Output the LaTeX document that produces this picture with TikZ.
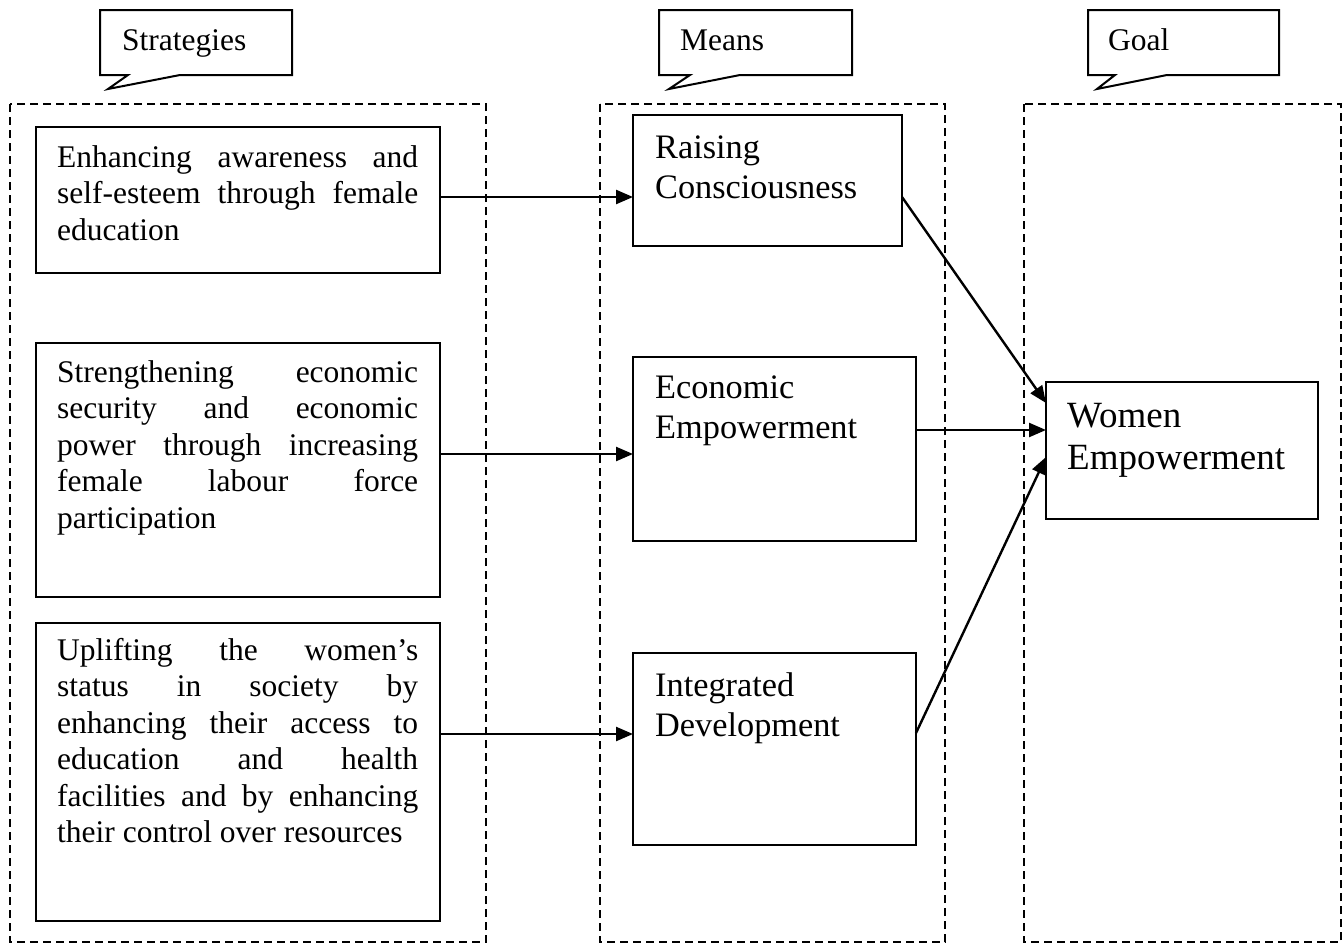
\documentclass[tikz,border=0pt]{standalone}
\usepackage{fontspec}
\setmainfont{Liberation Serif}
\usetikzlibrary{arrows.meta,calc}
\newcommand\jset{\hyphenpenalty=10000\relax\exhyphenpenalty=10000\relax\lefthyphenmin=64\relax\tolerance=10000\relax\spaceskip=0.25em plus 5em\relax}
\begin{document}
\begin{tikzpicture}[x=1pt,y=-1pt,
  frame/.style={draw, dash pattern=on 8pt off 5pt, line width=1.8pt},
  box/.style={draw, line width=2.6pt, inner sep=0pt, outer sep=0pt},
  callout/.style={draw, line width=2pt, line join=miter},
  body/.style={inner sep=0pt, anchor=base west, text width=361pt, align=justify,
    font=\fontsize{31.5}{36.5}\selectfont},
  mean/.style={inner sep=0pt, anchor=base west, align=left, font=\fontsize{34.3}{40}\selectfont},
  goaltext/.style={inner sep=0pt, anchor=base west, align=left, font=\fontsize{37}{42}\selectfont},
  tag/.style={inner sep=0pt, anchor=base west, font=\fontsize{31.5}{36}\selectfont},
  arr/.style={-{Triangle[length=17pt,width=14pt]}, line width=2.4pt}
]
\useasboundingbox (0,0) rectangle (1343,945);

% group frames
\draw[frame] (10,104) rectangle (486,942);
\draw[frame] (600,104) rectangle (945,942);
\draw[frame] (1024,104) rectangle (1341,942);

% callouts
\draw[callout] (100,10) -- (292,10) -- (292,75) -- (180,75) -- (108,89) -- (128,75) -- (100,75) -- cycle;
\node[tag] (tS) at (122,50) {Strategies};
\draw[callout] (659,10) -- (852,10) -- (852,75) -- (740,75) -- (669,89) -- (690,75) -- (659,75) -- cycle;
\node[tag] (tM) at (680,50) {Means};
\draw[callout] (1088,10) -- (1279,10) -- (1279,75) -- (1167,75) -- (1097,89) -- (1115,75) -- (1088,75) -- cycle;
\node[tag] (tG) at (1108,50) {Goal};

% strategy boxes
\node[box, minimum width=404pt, minimum height=146pt] (s1) at (238,200) {};
\node[box, minimum width=404pt, minimum height=254pt] (s2) at (238,470) {};
\node[box, minimum width=404pt, minimum height=298pt] (s3) at (238,772) {};
\node[body] (s1t) at (57,167) {\jset Enhancing awareness and\linebreak self-esteem through female\linebreak education};
\node[body] (s2t) at (57,382) {\jset Strengthening economic\linebreak security and economic\linebreak power through increasing\linebreak female labour force\linebreak participation};
\node[body] (s3t) at (57,660) {\jset Uplifting the women’s\linebreak status in society by\linebreak enhancing their access to\linebreak education and health\linebreak facilities and by enhancing\linebreak their control over resources};

% means boxes
\node[box, minimum width=269pt, minimum height=131pt] (m1) at (767.5,180.5) {};
\node[box, minimum width=283pt, minimum height=184pt] (m2) at (774.5,449) {};
\node[box, minimum width=283pt, minimum height=192pt] (m3) at (774.5,749) {};
\node[mean] (m1t) at (655,198) {Raising\\Consciousness};
\node[mean] (m2t) at (655,438) {Economic\\Empowerment};
\node[mean] (m3t) at (655,736) {Integrated\\Development};

% goal box
\node[box, minimum width=272pt, minimum height=137pt] (w) at (1182,450.5) {};
\node[goaltext] (wt) at (1067,469) {Women\\Empowerment};

% connectors
\draw[arr] ($(s1.east)+(0,-3)$) -- ($(m1.west)+(0,16.5)$);
\draw[arr] ($(s2.east)+(0,-16)$) -- ($(m2.west)+(0,5)$);
\draw[arr] ($(s3.east)+(0,-38)$) -- ($(m3.west)+(0,-15)$);
\draw[arr] ($(m1.east)+(0,16.5)$) -- ($(w.west)+(0,-47.5)$);
\draw[arr] ($(m2.east)+(0,-19)$) -- ($(w.west)+(0,-20.5)$);
\draw[arr] ($(m3.east)+(0,-16)$) -- ($(w.west)+(0,6.5)$);
\end{tikzpicture}
\end{document}
